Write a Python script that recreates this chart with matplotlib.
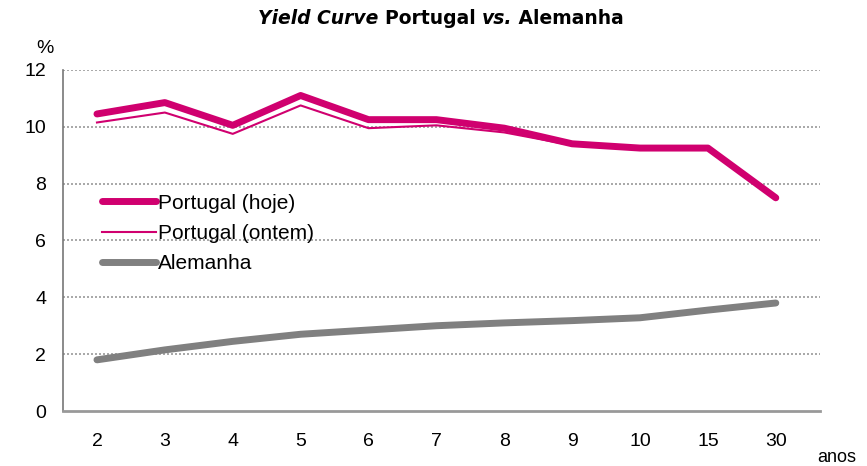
import matplotlib.pyplot as plt

maturidades = ["2", "3", "4", "5", "6", "7", "8", "9", "10", "15", "30"]
portugal_hoje = [10.45, 10.85, 10.05, 11.1, 10.25, 10.25, 9.95, 9.4, 9.25, 9.25, 7.5]
portugal_ontem = [10.15, 10.5, 9.75, 10.75, 9.95, 10.05, 9.8, 9.35, 9.2, 9.2, 7.5]
alemanha = [1.8, 2.15, 2.45, 2.7, 2.85, 3.0, 3.1, 3.18, 3.28, 3.55, 3.8]

titulo = [("Yield Curve ", "italic"), ("Portugal ", "normal"), ("vs.", "italic"), (" Alemanha", "normal")]

plt.rcParams["font.family"] = ["Liberation Sans", "DejaVu Sans"]

magenta = "#d0006f"
cinza = "#808080"

fig = plt.figure(figsize=(8.67, 4.66), dpi=100)
ax = fig.add_axes([0.0727, 0.118, 0.873, 0.732])

x = list(range(len(maturidades)))
ax.plot(x, portugal_hoje, color=magenta, lw=5, solid_capstyle="round", label="Portugal (hoje)", zorder=4)
ax.plot(x, portugal_ontem, color=magenta, lw=1.5, label="Portugal (ontem)", zorder=3)
ax.plot(x, alemanha, color=cinza, lw=5, solid_capstyle="round", label="Alemanha", zorder=3)

ax.set_xlim(-0.5, 10.65)
ax.set_ylim(0, 12)
ax.set_yticks(range(0, 13, 2))
ax.set_xticks(x)
ax.set_xticklabels(maturidades)
ax.tick_params(length=0, labelsize=14)
ax.tick_params(axis="x", pad=16)
ax.tick_params(axis="y", pad=12)

for y in range(2, 13, 2):
    ax.axhline(y, color="#999999", lw=1.2, ls=(0, (1.2, 1.2)), zorder=1)

for s in ["top", "right"]:
    ax.spines[s].set_visible(False)
ax.spines["left"].set_color("#777777")
ax.spines["left"].set_linewidth(1.2)
ax.spines["bottom"].set_color("#999999")
ax.spines["bottom"].set_linewidth(2)

ax.legend(loc="upper left", bbox_to_anchor=(0.04, 0.662), frameon=False,
          fontsize=15, handlelength=2.6, handletextpad=0.1,
          labelspacing=0.55, borderaxespad=0)

fig.text(0.052, 0.895, "%", fontsize=14, ha="center", va="center")
fig.text(0.965, 0.018, "anos", fontsize=13, ha="center", va="center")

# titulo em pedacos (negrito, com partes em italico)
r = fig.canvas.get_renderer()
pecas = []
for txt, estilo in titulo:
    t = fig.text(0, 0.96, txt, fontsize=13.5, fontweight="bold", style=estilo,
                 family="DejaVu Sans", va="center", ha="left")
    pecas.append(t)
larguras = [t.get_window_extent(r).width for t in pecas]
x0 = 441 - sum(larguras) / 2
for t, w in zip(pecas, larguras):
    t.set_x(x0 / 867)
    x0 += w

fig.savefig("out.png", dpi=100)
